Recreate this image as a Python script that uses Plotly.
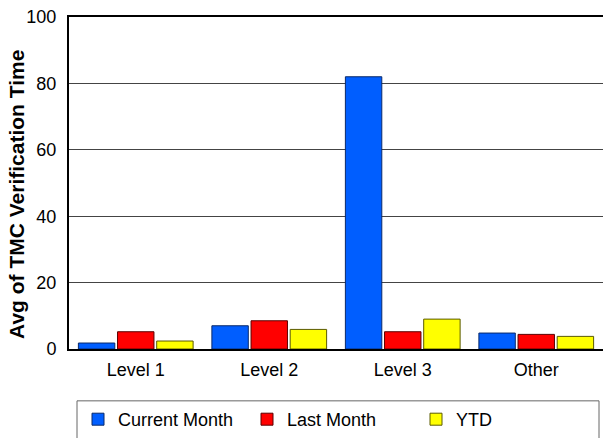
import plotly.graph_objects as go

categories = ["Level 1", "Level 2", "Level 3", "Other"]
current_month = [1.8, 7.0, 82.0, 4.8]
last_month = [5.2, 8.5, 5.2, 4.4]
ytd = [2.4, 5.9, 9.0, 3.8]

series = [
    ("Current Month", current_month, "#005EFF", "#0A2A6A"),
    ("Last Month", last_month, "#FF0000", "#5A0000"),
    ("YTD", ytd, "#FFFF00", "#5A5A00"),
]

fig = go.Figure()
for name, vals, col, line in series:
    fig.add_trace(go.Bar(
        x=categories, y=vals, name=name,
        marker=dict(color=col, line=dict(color=line, width=1)),
    ))

W, H = 603, 438
# plot area in page coordinates
PX0, PX1, PY0, PY1 = 69, 603, 17, 350
L, R, T, B = PX0, W - PX1, PY0, H - PY1
PW = PX1 - PX0
PH = PY1 - PY0

def px_to_x(px):
    return (px - PX0) / PW

def py_to_y(py):
    return (PY1 - py) / PH

fig.update_layout(
    width=W, height=H,
    margin=dict(l=L, r=R, t=T, b=B, pad=0),
    paper_bgcolor="white", plot_bgcolor="white",
    font=dict(family="Liberation Sans, Arial, sans-serif", size=18, color="black"),
    barmode="group", bargap=0.12, bargroupgap=0.07,
    showlegend=True,
    legend=dict(
        orientation="h", x=px_to_x(78), xanchor="left",
        y=py_to_y(421), yanchor="middle",
        entrywidth=124, entrywidthmode="pixels",
        font=dict(size=18), bgcolor="rgba(0,0,0,0)",
    ),
    xaxis=dict(
        showline=True, linecolor="black", linewidth=2, automargin=False,
        mirror=True,
        ticks="", tickfont=dict(size=18), showgrid=False, ticklabelstandoff=3,
    ),
    yaxis=dict(
        range=[0, 100], tickvals=[0, 20, 40, 60, 80, 100], automargin=False,
        showgrid=True, gridcolor="#444444", gridwidth=1,
        showline=True, linecolor="black", linewidth=2,
        ticks="", ticklabelstandoff=7, tickfont=dict(size=18),
        ticklabeloverflow="allow",
        zeroline=False,
    ),
    annotations=[
        dict(text="<b>Avg of TMC Verification Time</b>", textangle=-90,
             xref="paper", yref="paper", x=px_to_x(3), y=py_to_y(195),
             xanchor="left", yanchor="middle", showarrow=False,
             font=dict(size=21)),
    ],
    shapes=[
        dict(type="rect", xref="paper", yref="paper",
             x0=px_to_x(77), x1=px_to_x(599),
             y0=py_to_y(402), y1=py_to_y(470),
             line=dict(color="#666666", width=1), fillcolor="rgba(0,0,0,0)", layer="below"),
    ],
)

fig.write_html("out.html", config={"displayModeBar": False},
               post_script="document.body.style.margin='0px';")
